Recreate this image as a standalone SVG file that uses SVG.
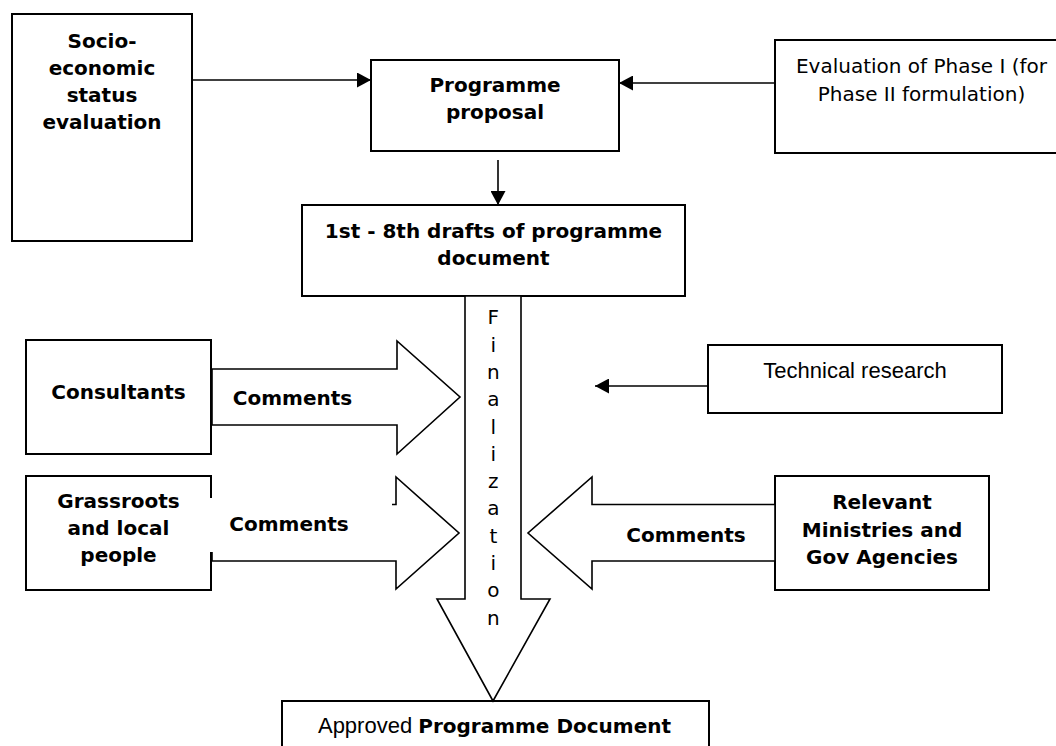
<svg xmlns="http://www.w3.org/2000/svg" width="1056" height="746" viewBox="0 0 1056 746">
<style>
.box{fill:#fff;stroke:#000;stroke-width:2}
.blk{fill:#fff;stroke:#000;stroke-width:1.6;stroke-linejoin:miter}
.ln{fill:none;stroke:#000;stroke-width:1.6}
.b{font-family:"DejaVu Sans",Verdana,sans-serif;font-weight:bold;font-size:20px;text-anchor:middle;fill:#000}
.r{font-family:"DejaVu Sans",Verdana,sans-serif;font-size:20px;text-anchor:middle;fill:#000}
.n{font-family:"Liberation Sans",Arial,sans-serif;font-size:22px;text-anchor:middle;fill:#000}
</style>
<defs>
<marker id="ah" markerUnits="userSpaceOnUse" markerWidth="14" markerHeight="15" refX="14" refY="7.5" orient="auto">
<path d="M0,0 L14,7.5 L0,15 z" fill="#000"/>
</marker>
</defs>

<g id="socio">
<rect class="box" x="12" y="14" width="180" height="227"/>
<text class="b" x="102" y="48">Socio-</text>
<text class="b" x="102" y="75">economic</text>
<text class="b" x="102" y="102">status</text>
<text class="b" x="102" y="129">evaluation</text>
</g>

<g id="proposal">
<rect class="box" x="371" y="60" width="248" height="91"/>
<text class="b" x="495" y="92">Programme</text>
<text class="b" x="495" y="119">proposal</text>
</g>

<g id="evaluation">
<rect class="box" x="775" y="40" width="300" height="113"/>
<text class="r" x="921.5" y="72.7">Evaluation of Phase I (for</text>
<text class="r" x="921.5" y="100.7">Phase II formulation)</text>
</g>

<g id="drafts">
<rect class="box" x="302" y="205" width="383" height="91"/>
<text class="b" x="493.5" y="238">1st - 8th drafts of programme</text>
<text class="b" x="493.5" y="265">document</text>
</g>

<g id="consultants">
<rect class="box" x="26" y="340" width="185" height="114"/>
<text class="b" x="118.5" y="399">Consultants</text>
</g>

<g id="grassroots">
<rect class="box" x="26" y="476" width="185" height="114"/>
<text class="b" x="118.5" y="508">Grassroots</text>
<text class="b" x="118.5" y="535">and local</text>
<text class="b" x="118.5" y="562">people</text>
</g>

<g id="technical">
<rect class="box" x="708" y="345" width="294" height="68"/>
<text class="n" x="855" y="378">Technical research</text>
</g>

<g id="relevant">
<rect class="box" x="775" y="476" width="214" height="114"/>
<text class="b" x="882" y="509">Relevant</text>
<text class="b" x="882" y="537">Ministries and</text>
<text class="b" x="882" y="564">Gov Agencies</text>
</g>

<g id="approved">
<rect class="box" x="282" y="701" width="427" height="60"/>
<text class="b" x="494.5" y="733"><tspan class="n" style="font-weight:normal">Approved </tspan>Programme Document</text>
</g>

<g id="connectors">
<line class="ln" x1="192" y1="80" x2="371" y2="80" marker-end="url(#ah)"/>
<line class="ln" x1="775" y1="83" x2="619" y2="83" marker-end="url(#ah)"/>
<line class="ln" x1="498" y1="160" x2="498" y2="205" marker-end="url(#ah)"/>
<line class="ln" x1="708" y1="386" x2="595" y2="386" marker-end="url(#ah)"/>

<polygon class="blk" points="465,296 521,296 521,599 550,599 493,701 437,599 465,599"/>
<polygon class="blk" points="212,369 397,369 397,341 460,397 397,454 397,425 212,425"/>
<polygon class="blk" points="212,504.5 396,504.5 396,477 459,533 396,589 396,561 212,561"/>
<polygon class="blk" points="775,504.5 592,504.5 592,477 528,533 592,589 592,561 775,561"/>
<rect x="210" y="498" width="182" height="54" fill="#fff"/>

<text class="b" x="292.5" y="405">Comments</text>
<text class="b" x="289" y="531">Comments</text>
<text class="b" x="686" y="542">Comments</text>

<g class="r">
<text x="493.3" y="324.3">F</text>
<text x="493.3" y="351.6">i</text>
<text x="493.3" y="378.9">n</text>
<text x="493.3" y="406.2">a</text>
<text x="493.3" y="433.5">l</text>
<text x="493.3" y="460.8">i</text>
<text x="493.3" y="488.1">z</text>
<text x="493.3" y="515.4">a</text>
<text x="493.3" y="542.7">t</text>
<text x="493.3" y="570">i</text>
<text x="493.3" y="597.3">o</text>
<text x="493.3" y="624.6">n</text>
</g>
</g>
</svg>
